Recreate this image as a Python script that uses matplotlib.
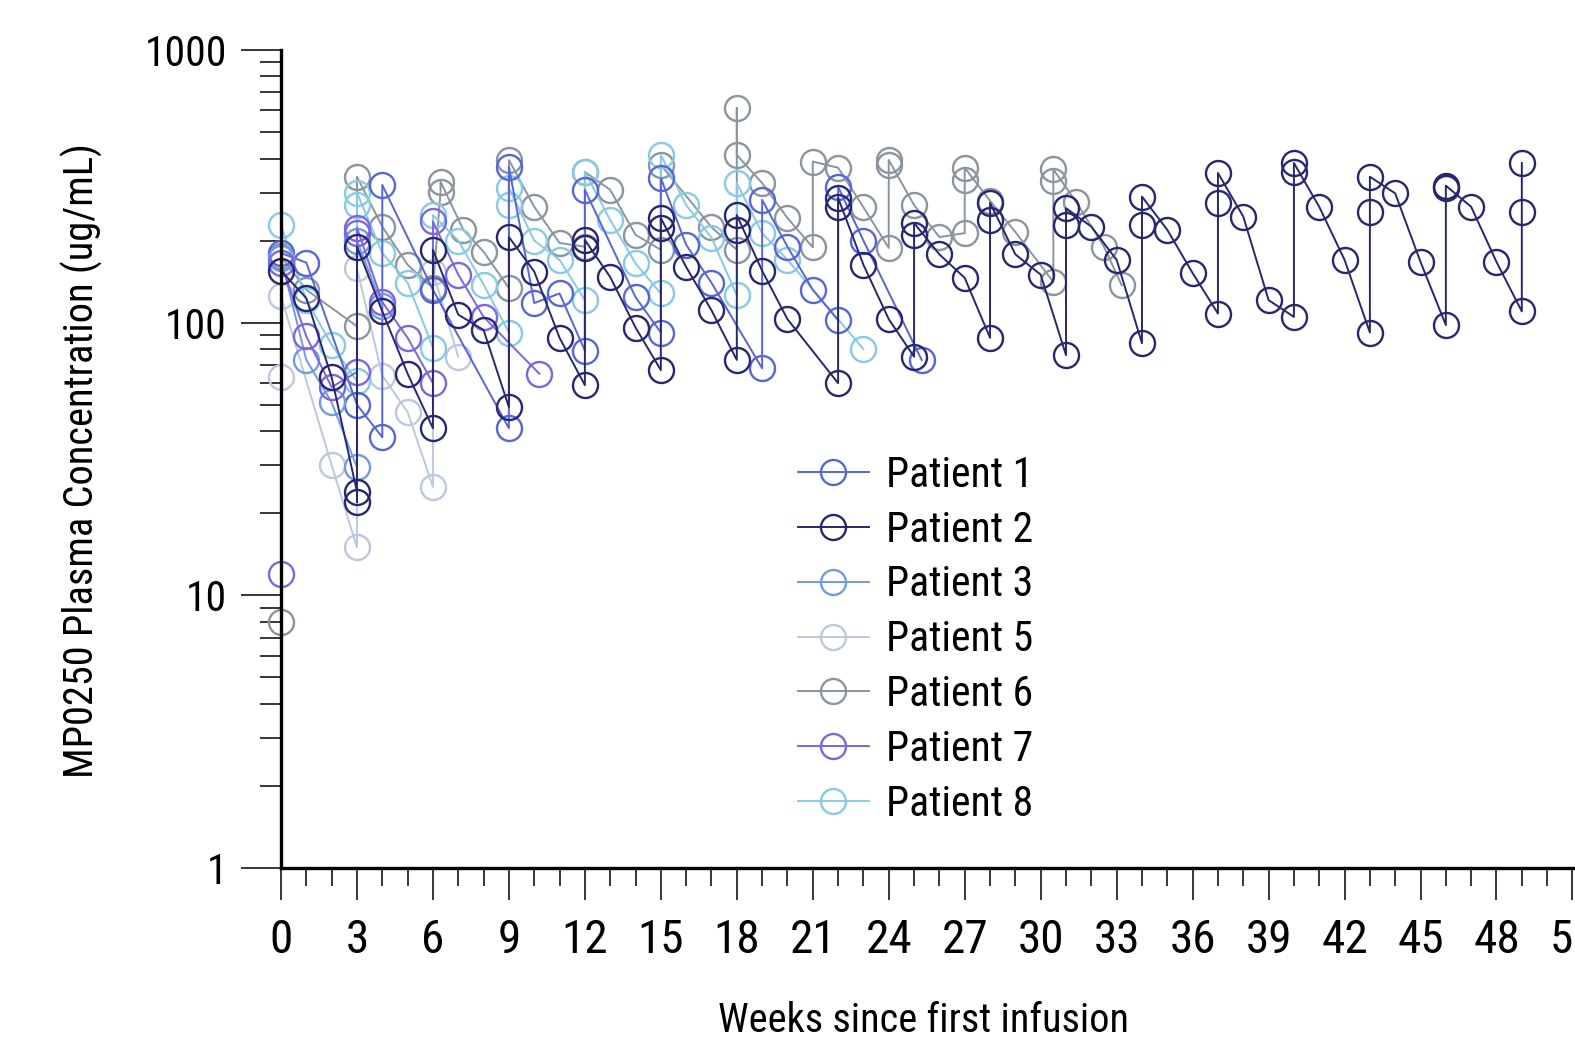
import matplotlib
matplotlib.use("Agg")
import matplotlib.pyplot as plt
from matplotlib.ticker import FixedLocator, MultipleLocator, NullFormatter, LogLocator
from matplotlib import font_manager

# ---------------- data ----------------
patients = ["Patient 1", "Patient 2", "Patient 3", "Patient 5", "Patient 6", "Patient 7", "Patient 8"]
colors = ["#5566dd", "#262673", "#6f9be6", "#bcc8de", "#8a959e", "#7a66e6", "#86cbe6"]

p1_weeks = [0, 1, 3, 4, 4, 6, 9, 9, 10, 11, 12, 12, 14, 15, 15, 16, 17, 19, 19, 20, 21, 22, 22, 23, 25.3]
p1_conc = [180, 166, 50, 38, 320, 132, 41, 373, 118, 128, 79, 307, 124, 92, 339, 193, 140, 68, 282, 190, 132, 102, 315, 200, 73]

p2_weeks = [0, 1, 2, 3, 3, 3, 4, 5, 6, 6, 7, 8, 9, 9, 10, 11, 12, 12, 12, 13, 14, 15, 15, 15,
            16, 17, 18, 18, 18, 19, 20, 22, 22, 22, 23, 24, 25, 25, 25, 26, 27, 28, 28, 28,
            29, 30, 31, 31, 31, 32, 33, 34, 34, 34, 35, 36, 37, 37, 37, 38, 39, 40, 40, 40,
            41, 42, 43, 43, 43, 44, 45, 46, 46, 46, 47, 48, 49, 49, 49]
p2_conc = [155, 123, 63, 24, 22, 190, 110, 65, 41, 185, 107, 94, 49, 206, 154, 88, 59, 188, 201, 147, 96, 67, 222, 242,
           160, 111, 73, 219, 248, 155, 103, 60, 265, 287, 163, 103, 75, 210, 232, 178, 146, 88, 238, 275,
           178, 150, 76, 228, 263, 225, 170, 84, 228, 290, 219, 152, 108, 275, 354, 245, 121, 105, 357, 385,
           266, 170, 92, 255, 343, 298, 167, 98, 312, 318, 266, 167, 110, 255, 385]

p3_weeks = [0, 1, 2, 3, 3, 4]
p3_conc = [172, 73, 51, 29.5, 200, 115]

p5_weeks = [0, 0, 2, 3, 3, 4, 5, 6, 6, 7]
p5_conc = [63, 125, 30, 15, 158, 64, 47, 25, 153, 75]

p6_weeks = [0, 0, 1, 3, 3, 4, 5, 6, 6.3, 6.3, 7.2, 8, 9, 9, 10, 11, 12, 12, 13, 14, 15, 15, 17, 18, 18, 18,
            19, 20, 21, 21, 22, 23, 24, 24, 24, 25, 26, 27, 27, 27, 28, 29, 30.5, 30.5, 30.5, 31.4, 32.5, 33.2]
p6_conc = [8, 175, 132, 97, 343, 225, 163, 134, 302, 329, 219, 182, 134, 395, 266, 196, 190, 357, 307, 210, 185, 379, 224, 185, 612, 412,
           325, 242, 189, 390, 370, 265, 188, 380, 395, 270, 206, 213, 333, 370, 280, 215, 141, 330, 365, 277, 190, 137]

p7_weeks = [0, 0, 1, 2, 3, 3, 3, 4, 5, 6, 6, 7, 8, 10.2]
p7_conc = [12, 165, 89, 58, 66, 213, 223, 119, 88, 60, 235, 150, 105, 65]

p8_weeks = [0, 1, 2, 3, 3, 3, 4, 5, 6, 6, 7, 8, 9, 9, 9, 10, 11, 12, 12, 13, 14, 15, 15, 16, 17, 18, 18, 19, 20, 23]
p8_conc = [228, 121, 83, 61, 270, 300, 180, 140, 81, 248, 200, 138, 92, 270, 312, 200, 170, 121, 357, 238, 165, 128, 412, 270, 205, 126, 325, 213, 170, 80]

x_ticks = list(range(0, 52, 3))
y_ticks = [1, 10, 100, 1000]
y_tick_labels = ["1", "10", "100", "1000"]

# ---------------- fonts ----------------
avail = {f.name for f in font_manager.fontManager.ttflist}
prefs = ["Liberation Sans Narrow", "Arial Narrow", "Roboto Condensed", "Archivo Narrow", "PT Sans Narrow",
         "Pragati Narrow", "Open Sans Condensed", "Encode Sans Condensed", "Liberation Sans"]
chosen = next((p for p in prefs if p in avail), "DejaVu Sans")
narrow = chosen != "Liberation Sans" and chosen != "DejaVu Sans"
plt.rcParams["font.family"] = [chosen, "DejaVu Sans"]
k = 1.0 if narrow else 0.85  # shrink if no condensed face is available

# ---------------- figure ----------------
W, H = 1575, 1046
fig = plt.figure(figsize=(W / 100, H / 100), dpi=100)
left_px, right_px, top_px, bottom_px = 281, 1575, 50, 868
ax = fig.add_axes([left_px / W, 1 - bottom_px / H, (right_px - left_px) / W, (bottom_px - top_px) / H])

series = [(p1_weeks, p1_conc), (p2_weeks, p2_conc), (p3_weeks, p3_conc), (p5_weeks, p5_conc),
          (p6_weeks, p6_conc), (p7_weeks, p7_conc), (p8_weeks, p8_conc)]
zorders = [4, 6, 4, 3, 3, 4, 3]
handles = []
for (wk, cc), name, col, z in zip(series, patients, colors, zorders):
    h, = ax.plot(wk, cc, "-", color=col, lw=1.4, marker="o", ms=18, mfc="none", mec=col, mew=1.7,
                 label=name, clip_on=False, zorder=z)
    handles.append(h)

ax.set_yscale("log")
ax.set_ylim(1, 1000)
ax.set_xlim(0, 51.1)

ax.xaxis.set_major_locator(FixedLocator(x_ticks))
ax.set_xticklabels([str(t) for t in x_ticks])
ax.xaxis.set_minor_locator(MultipleLocator(1))
ax.yaxis.set_major_locator(FixedLocator(y_ticks))
ax.set_yticklabels(y_tick_labels)
ax.yaxis.set_minor_locator(LogLocator(base=10, subs=[2, 3, 4, 5, 6, 7, 8, 9]))
ax.yaxis.set_minor_formatter(NullFormatter())

for s in ["top", "right"]:
    ax.spines[s].set_visible(False)
for s in ["left", "bottom"]:
    ax.spines[s].set_linewidth(2.4)
    ax.spines[s].set_zorder(7)

ax.tick_params(axis="x", which="major", length=23, width=1.1, direction="out", pad=13, labelsize=34 * k)
ax.tick_params(axis="x", which="minor", length=13, width=1.1, direction="out")
ax.tick_params(axis="y", which="major", length=29, width=1.1, direction="out", pad=10, labelsize=30 * k)
ax.tick_params(axis="y", which="minor", length=15, width=1.1, direction="out")

fig.text(923 / W, 1 - 1021 / H, "Weeks since first infusion", ha="center", va="center", fontsize=29 * k)
fig.text(82 / W, 1 - 461 / H, "MP0250 Plasma Concentration (ug/mL)", ha="center", va="center",
         rotation=90, fontsize=29.2 * k)

leg = ax.legend(handles=handles, loc="upper left", bbox_to_anchor=((798 - left_px) / (right_px - left_px),
                (bottom_px - 455) / (bottom_px - top_px)), frameon=False, fontsize=30 * k, handlelength=1.7,
                handletextpad=0.42, labelspacing=0.33, borderpad=0, borderaxespad=0)

fig.savefig("out.png", dpi=100)
